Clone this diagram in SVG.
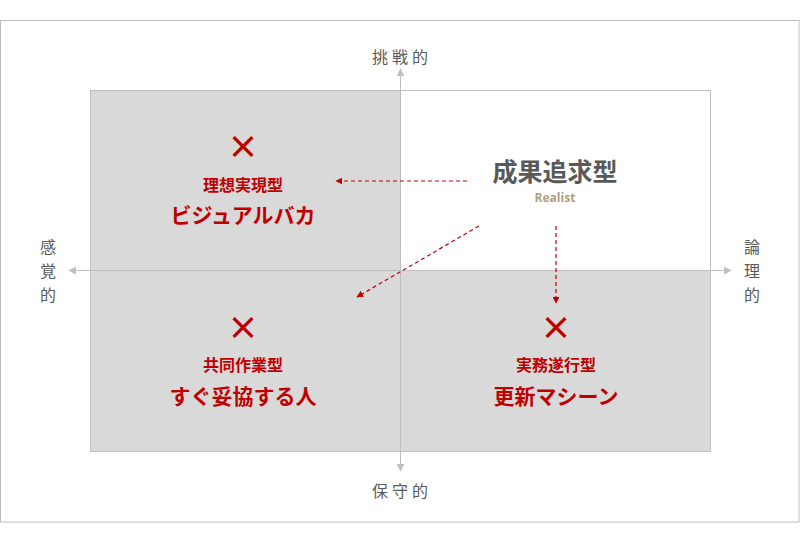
<svg xmlns="http://www.w3.org/2000/svg" width="800" height="543" viewBox="0 0 800 543">
<style>
.ax{font-family:"Noto Sans CJK JP","Noto Sans",sans-serif;font-size:16px;fill:#595959;text-anchor:middle;letter-spacing:4px}
.axv{font-family:"Noto Sans CJK JP","Noto Sans",sans-serif;font-size:16px;fill:#595959;text-anchor:middle}
.x{font-family:"Noto Sans CJK JP","Noto Sans",sans-serif;font-size:32px;font-weight:bold;fill:#c00000;text-anchor:middle}
.t1{font-family:"Noto Sans CJK JP","Noto Sans",sans-serif;font-size:16px;font-weight:bold;fill:#c00000;text-anchor:middle}
.t2{font-family:"Noto Sans CJK JP","Noto Sans",sans-serif;font-size:21px;font-weight:bold;fill:#c00000;text-anchor:middle}
.q{fill:#d9d9d9;stroke:#bfbfbf;stroke-width:1}
.axis{stroke:#bfbfbf;stroke-width:1;fill:none}
.dash{stroke:#c00000;stroke-width:1.2;stroke-dasharray:4 3;fill:none}
</style>
<defs>
<marker id="ga" viewBox="0 0 10 10" refX="9" refY="5" markerWidth="8" markerHeight="8" orient="auto" markerUnits="userSpaceOnUse"><path d="M0,0 L10,5 L0,10 z" fill="#bfbfbf"/></marker>
<marker id="ra" viewBox="0 0 10 10" refX="9" refY="5" markerWidth="7" markerHeight="7" orient="auto" markerUnits="userSpaceOnUse"><path d="M0,0 L10,5 L0,10 z" fill="#c00000"/></marker>
</defs>
<rect x="0" y="0" width="800" height="543" fill="#ffffff"/>
<rect x="0.5" y="20.5" width="798.5" height="501.5" fill="none" stroke="#bfbfbf" stroke-width="1"/>
<g id="quadrants">
<rect class="q" x="90.5" y="90.5" width="310" height="180"/>
<rect x="400.5" y="90.5" width="310" height="180" fill="#ffffff" stroke="#bfbfbf"/>
<rect class="q" x="90.5" y="270.5" width="310" height="181"/>
<rect class="q" x="400.5" y="270.5" width="310" height="181"/>
</g>
<g id="axes">
<line class="axis" x1="400.5" y1="451" x2="400.5" y2="69" marker-end="url(#ga)"/>
<line class="axis" x1="400.5" y1="90" x2="400.5" y2="471" marker-end="url(#ga)"/>
<line class="axis" x1="400" y1="270.5" x2="69" y2="270.5" marker-end="url(#ga)"/>
<line class="axis" x1="400" y1="270.5" x2="731" y2="270.5" marker-end="url(#ga)"/>
</g>
<g id="axis-labels">
<text class="ax" x="402" y="63">挑戦的</text>
<text class="ax" x="402" y="497">保守的</text>
<text class="axv" x="48" y="253">感</text>
<text class="axv" x="48" y="277">覚</text>
<text class="axv" x="48" y="301">的</text>
<text class="axv" x="752" y="253">論</text>
<text class="axv" x="752" y="277">理</text>
<text class="axv" x="752" y="301">的</text>
</g>
<g id="node-tl">
<text class="x" x="243" y="159">×</text>
<text class="t1" x="243" y="191">理想実現型</text>
<text class="t2" x="243" y="223">ビジュアルバカ</text>
</g>
<g id="node-bl">
<text class="x" x="243" y="340">×</text>
<text class="t1" x="243" y="371">共同作業型</text>
<text class="t2" x="243" y="404">すぐ妥協する人</text>
</g>
<g id="node-br">
<text class="x" x="556" y="340">×</text>
<text class="t1" x="556" y="371">実務遂行型</text>
<text class="t2" x="556" y="404">更新マシーン</text>
</g>
<g id="node-tr">
<text x="555" y="181" font-family="'Noto Sans CJK JP','Noto Sans',sans-serif" font-size="25" font-weight="bold" fill="#595959" text-anchor="middle">成果追求型</text>
<text x="555" y="202" font-family="'Open Sans','Noto Sans',sans-serif" font-size="12" font-weight="bold" fill="#ad9f7f" text-anchor="middle">Realist</text>
</g>
<g id="connectors">
<line class="dash" x1="467" y1="181" x2="336" y2="181" marker-end="url(#ra)"/>
<line class="dash" x1="479" y1="226" x2="357" y2="297" marker-end="url(#ra)"/>
<line class="dash" x1="556" y1="226" x2="556" y2="303" marker-end="url(#ra)"/>
</g>
</svg>
